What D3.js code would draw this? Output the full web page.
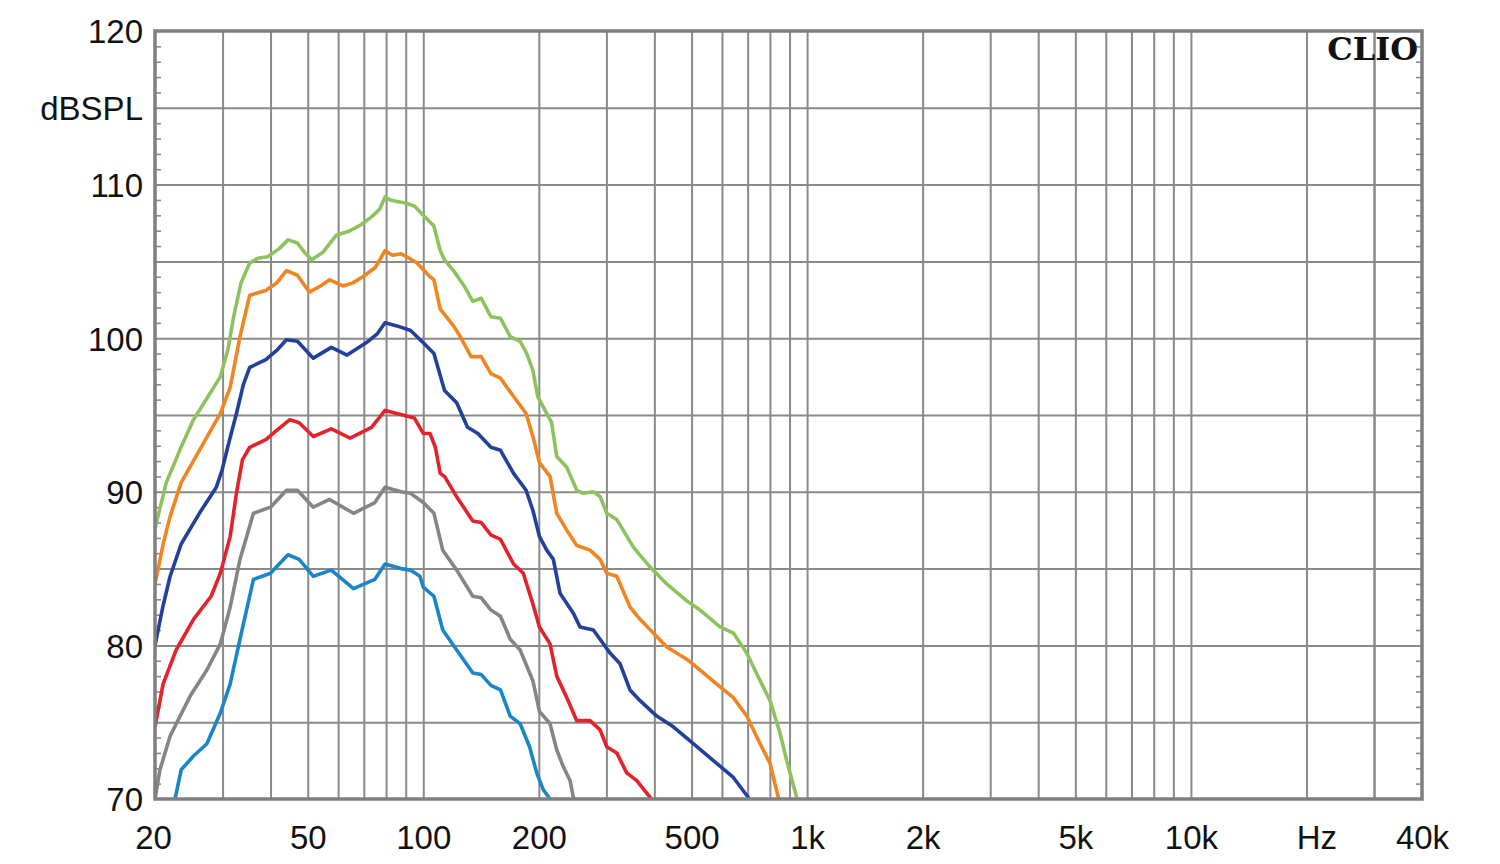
<!DOCTYPE html>
<html>
<head>
<meta charset="utf-8">
<script src="https://cdn.jsdelivr.net/npm/d3@7"></script>
<style>
  html, body { margin: 0; padding: 0; background: #fff; }
  svg { display: block; }
  .lbl { font-family: "Liberation Sans", Arial, sans-serif; font-size: 33px; fill: #111; }
</style>
</head>
<body>
<svg id="chart" width="1500" height="864"></svg>
<script>
// ---------- data ----------
const xTickValues = [20, 50, 100, 200, 500, 1000, 2000, 5000, 10000, 20000, 40000];
const xTickLabels = ["20", "50", "100", "200", "500", "1k", "2k", "5k", "10k", "Hz", "40k"];
const yTickValues = [70, 80, 90, 100, 110, 115, 120];
const yTickLabels = ["70", "80", "90", "100", "110", "dBSPL", "120"];

const freqGreen = [20, 21.4, 23.2, 25.2, 27.5, 29.6, 31, 32, 33.5, 35.3, 37, 39.3, 42, 44.4, 47, 49, 51.2, 54.8, 59.3, 64.5, 69, 73.3, 77, 79.5, 82, 85.4, 90, 94.8, 100, 106.6, 110.7, 113.6, 119.9, 127.8, 134.6, 141.6, 150, 158.9, 168.5, 178.8, 186, 193, 198.7, 209.7, 216, 222.7, 236.5, 251.1, 261.2, 277.4, 288.8, 300.6, 319.2, 352.6, 389.9, 430.9, 485.8, 526.1, 593.3, 642.5, 696.3, 754.2, 800.9, 850, 884.8, 939.6, 985];
const splGreen  = [87.6, 90.6, 92.7, 94.7, 96.2, 97.5, 99.3, 101.3, 103.6, 104.9, 105.2, 105.3, 105.8, 106.4, 106.2, 105.6, 105.1, 105.6, 106.7, 107.0, 107.4, 107.9, 108.4, 109.2, 109.0, 108.9, 108.8, 108.6, 108.0, 107.3, 105.7, 105.1, 104.4, 103.4, 102.4, 102.6, 101.4, 101.3, 100.1, 99.8, 99.0, 97.9, 96.2, 95.1, 94.5, 92.3, 91.6, 90.1, 89.9, 90.0, 89.7, 88.6, 88.2, 86.4, 85.1, 84.0, 82.9, 82.3, 81.2, 80.8, 79.5, 77.7, 76.4, 74.3, 72.5, 70.1, 68.0];

const freqOrange = [20, 20.2, 21, 21.9, 23.4, 26.1, 29.6, 31.4, 33.3, 35.3, 38.9, 41.5, 44, 47, 50.5, 54, 57, 61.8, 65.5, 69.6, 75, 79.5, 83.1, 87.5, 90.6, 96.3, 104.1, 106.6, 110.7, 119.9, 124.8, 133.2, 141.6, 150, 158.9, 171.9, 185.3, 193, 200.7, 213.9, 222.7, 236.5, 251.1, 271.9, 288.8, 300.6, 319.2, 345.6, 367.1, 397.6, 430.9, 485.8, 526.1, 593.3, 642.5, 696.3, 754.2, 800.9, 841.4, 875];
const splOrange  = [84.0, 84.5, 86.6, 88.4, 90.6, 92.7, 95.1, 96.8, 100.1, 102.8, 103.1, 103.6, 104.4, 104.1, 103.0, 103.4, 103.8, 103.4, 103.6, 104.0, 104.6, 105.7, 105.4, 105.5, 105.3, 104.9, 104.0, 103.8, 101.9, 100.8, 100.1, 98.8, 98.8, 97.7, 97.4, 96.2, 95.1, 93.6, 91.9, 91.0, 88.6, 87.5, 86.5, 86.2, 85.6, 84.7, 84.5, 82.5, 81.7, 80.8, 79.9, 79.1, 78.4, 77.3, 76.6, 75.4, 73.6, 72.3, 70.1, 68.0];

const freqBlue = [20, 21, 21.9, 23.4, 26.1, 28.9, 29.9, 31, 32.6, 34, 35.3, 38.9, 41.5, 44, 47, 51.7, 57.6, 63.3, 71, 76, 79.5, 85.4, 92.7, 100, 106.6, 113.6, 122.2, 130.4, 138.8, 150, 158.9, 171.9, 185.3, 193, 200.7, 209.7, 218.2, 227.1, 246, 256.1, 277.4, 288.8, 306.6, 325.6, 345.6, 367.1, 405.8, 448.2, 505.3, 569.9, 642.5, 702.9, 760];
const splBlue  = [80.0, 82.6, 84.5, 86.6, 88.6, 90.3, 91.4, 93.0, 95.1, 97.0, 98.1, 98.6, 99.2, 99.9, 99.8, 98.7, 99.4, 98.9, 99.7, 100.3, 101.0, 100.8, 100.5, 99.7, 99.0, 96.6, 95.8, 94.2, 93.8, 92.9, 92.7, 91.2, 90.1, 88.8, 87.1, 86.2, 85.6, 83.4, 82.1, 81.2, 81.0, 80.4, 79.5, 78.8, 77.1, 76.4, 75.4, 74.7, 73.6, 72.5, 71.4, 70.1, 69.0];

const freqRed = [20, 21, 22.7, 25.2, 28, 29.6, 31.4, 32.6, 33.8, 35.3, 38.9, 41.5, 44.9, 47.5, 51.7, 57.6, 64.5, 73.3, 79.5, 88.4, 94.8, 100, 104.1, 107.5, 110.7, 113.6, 122, 134.6, 141.6, 150, 158.9, 171.9, 182.2, 193, 200.7, 213.9, 222.7, 236.5, 251.1, 271.9, 288.8, 300.6, 319.2, 338.9, 359.9, 389.9, 430];
const splRed  = [74.7, 77.5, 79.7, 81.7, 83.2, 84.7, 87.1, 89.9, 92.1, 92.9, 93.4, 94.0, 94.7, 94.5, 93.6, 94.1, 93.5, 94.2, 95.3, 95.0, 94.8, 93.8, 93.8, 92.9, 91.2, 91.0, 89.7, 88.1, 88.0, 87.2, 86.9, 85.3, 84.7, 82.7, 81.2, 80.1, 78.0, 76.6, 75.1, 75.1, 74.5, 73.4, 73.0, 71.7, 71.2, 70.1, 69.0];

const freqGray = [20, 20.6, 21.9, 24.7, 27.3, 29.6, 31.4, 33.3, 36.1, 40, 44, 47, 51.7, 57, 65.8, 74.8, 79.5, 87.5, 92.7, 100, 106.6, 112.4, 122.2, 134.6, 141.6, 150, 158.9, 168.5, 178.8, 193, 200.7, 213.9, 222.7, 231.7, 241.2, 246, 265];
const splGray  = [70.0, 71.9, 74.1, 76.7, 78.4, 80.1, 82.5, 85.6, 88.6, 89.0, 90.1, 90.1, 89.0, 89.5, 88.6, 89.3, 90.3, 90.0, 89.9, 89.3, 88.6, 86.2, 84.9, 83.2, 83.1, 82.3, 81.9, 80.4, 79.7, 77.7, 75.7, 74.9, 73.2, 72.1, 71.2, 70.1, 68.5];

const freqLightBlue = [21.5, 22.6, 23.4, 25.2, 27.3, 29.6, 31.4, 33.3, 36.1, 40, 44.4, 47.5, 51.7, 57.6, 65.8, 74.8, 79.5, 87.5, 92.7, 98, 100, 106.6, 112.4, 122.2, 134.6, 141.6, 150, 158.9, 168.5, 178.8, 189.2, 197.5, 205.5, 213.9, 228];
const splLightBlue  = [67.5, 70.1, 71.9, 72.8, 73.6, 75.6, 77.5, 80.4, 84.3, 84.7, 85.9, 85.6, 84.5, 84.9, 83.7, 84.3, 85.3, 85.0, 84.9, 84.5, 83.8, 83.2, 81.0, 79.7, 78.2, 78.1, 77.4, 77.1, 75.4, 74.9, 73.4, 71.7, 70.6, 70.0, 68.5];

const seriesNames  = ["lightblue", "gray", "red", "blue", "orange", "green"];
const seriesFreqs  = [freqLightBlue, freqGray, freqRed, freqBlue, freqOrange, freqGreen];
const seriesLevels = [splLightBlue, splGray, splRed, splBlue, splOrange, splGreen];
const seriesColors = ["#1a86c8", "#858585", "#e3232b", "#23409a", "#ef8523", "#8dc35e"];

// ---------- layout ----------
const L = 155, R = 1422, T = 31, B = 799;
const svg = d3.select("#chart");
const x = d3.scaleLog().domain([20, 40000]).range([L, R]);
const y = d3.scaleLinear().domain([70, 120]).range([B, T]);

// grid lines (log decades 1..9)
const gridX = [];
[10, 100, 1000, 10000].forEach(dec => { for (let k = 1; k <= 9; k++) { const v = dec * k; if (v > 20 && v < 40000) gridX.push(v); } });
gridX.push(30000);
const gridY = d3.range(75, 120, 5);

const gridColor = "#8a8a8a";
svg.append("g")
  .attr("transform", `translate(0,${B})`)
  .call(d3.axisBottom(x).tickValues(gridX).tickSize(-(B - T)).tickFormat(""))
  .call(g => g.select(".domain").remove())
  .call(g => g.selectAll("line").attr("stroke", gridColor).attr("stroke-width", 2));

svg.append("g")
  .attr("transform", `translate(${L},0)`)
  .call(d3.axisLeft(y).tickValues(gridY).tickSize(-(R - L)).tickFormat(""))
  .call(g => g.select(".domain").remove())
  .call(g => g.selectAll("line").attr("stroke", gridColor).attr("stroke-width", 2));

// minor ticks inside left and right frame
const minorY = d3.range(71, 120, 1).filter(v => v % 5 !== 0);
svg.append("g")
  .attr("transform", `translate(${L},0)`)
  .call(d3.axisRight(y).tickValues(minorY).tickSize(6).tickFormat(""))
  .call(g => g.select(".domain").remove())
  .call(g => g.selectAll("line").attr("stroke", gridColor).attr("stroke-width", 1.6));
svg.append("g")
  .attr("transform", `translate(${R},0)`)
  .call(d3.axisLeft(y).tickValues(minorY).tickSize(6).tickFormat(""))
  .call(g => g.select(".domain").remove())
  .call(g => g.selectAll("line").attr("stroke", gridColor).attr("stroke-width", 1.6));

// curves
svg.append("clipPath").attr("id", "plotclip")
  .append("rect").attr("x", L).attr("y", T).attr("width", R - L).attr("height", B - T);

const line = d3.line().x(d => x(d[0])).y(d => y(d[1])).curve(d3.curveLinear);
const curves = svg.append("g").attr("clip-path", "url(#plotclip)");
seriesNames.forEach((name, i) => {
  const pts = seriesFreqs[i].map((f, j) => [f, seriesLevels[i][j]]);
  curves.append("path")
    .datum(pts)
    .attr("class", "curve " + name)
    .attr("fill", "none")
    .attr("stroke", seriesColors[i])
    .attr("stroke-width", 3.6)
    .attr("stroke-linejoin", "round")
    .attr("d", line);
});

// frame
svg.append("rect")
  .attr("x", L).attr("y", T).attr("width", R - L).attr("height", B - T)
  .attr("fill", "none").attr("stroke", "#7f7f7f").attr("stroke-width", 3.5);

// axis labels
const xAxis = svg.append("g")
  .attr("transform", `translate(0,${B})`)
  .call(d3.axisBottom(x).tickValues(xTickValues).tickSize(0).tickPadding(27)
        .tickFormat((d, i) => xTickLabels[i]))
  .call(g => g.select(".domain").remove());
xAxis.selectAll("text").attr("class", "lbl").attr("fill", "#111")
  .attr("dx", (d, i) => xTickLabels[i] === "Hz" ? 10 : (d === 20 ? -2 : 0));

const yAxis = svg.append("g")
  .attr("transform", `translate(${L},0)`)
  .call(d3.axisLeft(y).tickValues(yTickValues).tickSize(0).tickPadding(12)
        .tickFormat((d, i) => yTickLabels[i]))
  .call(g => g.select(".domain").remove());
yAxis.selectAll("text").attr("class", "lbl").attr("fill", "#111").attr("dy", "0.36em");

// CLIO logo
svg.append("text")
  .attr("x", R - 4).attr("y", 60)
  .attr("text-anchor", "end")
  .attr("font-family", "'DejaVu Serif', 'Liberation Serif', serif")
  .attr("font-weight", "bold")
  .attr("font-size", 32)
  .attr("fill", "#111")
  .text("CLIO");
</script>
</body>
</html>
